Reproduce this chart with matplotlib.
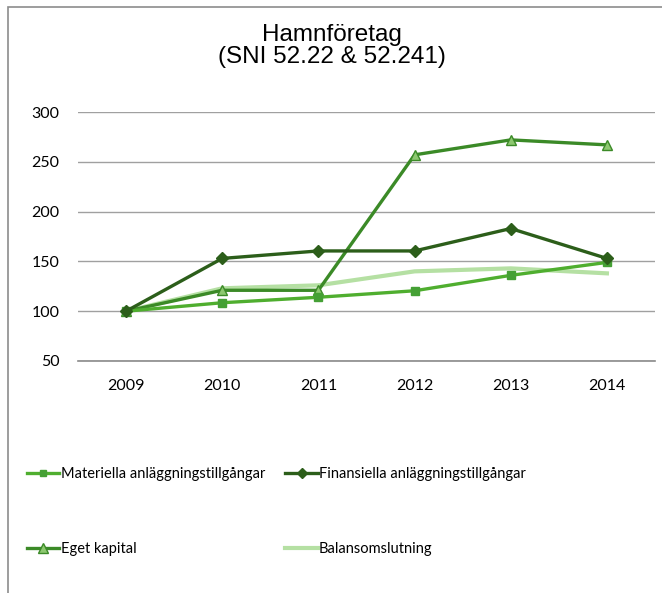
import matplotlib
matplotlib.use('Agg')
import matplotlib.pyplot as plt
from matplotlib.patches import Rectangle

### data
years = [2009, 2010, 2011, 2012, 2013, 2014]
materiella = [100, 108.5, 114, 120.5, 136, 149]
finansiella = [100, 153, 160.5, 160.5, 183, 153]
eget_kapital = [100, 121, 121, 257, 272, 267]
balans = [100, 123, 126, 140, 143, 138]

labels = ['Materiella anläggningstillgångar', 'Finansiella anläggningstillgångar',
          'Eget kapital', 'Balansomslutning']
title = 'Hamnföretag\n(SNI 52.22 & 52.241)'

W, H = 662, 593
fig = plt.figure(figsize=(W / 100, H / 100), dpi=100)

# outer chart border (right/bottom edges fall outside the image)
fig.patches.append(Rectangle((8 / W, -0.1), 1.1, 1 - 7 / H + 0.1, transform=fig.transFigure,
                             fill=False, edgecolor='#8c8c8c', linewidth=1.2))

ax = fig.add_axes([78 / W, 1 - 361 / H, (655 - 78) / W, (361 - 112) / H])

tick_font = 'Lato'

l1, = ax.plot(years, materiella, color='#4fae2f', lw=2.4, marker='s', ms=5.5,
              mfc='#45a035', mec='#45a035', zorder=3)
l2, = ax.plot(years, finansiella, color='#2c5e1a', lw=2.4, marker='D', ms=6,
              mfc='#2c5e1a', mec='#2c5e1a', zorder=4)
l3, = ax.plot(years, eget_kapital, color='#3b8a27', lw=2.4, marker='^', ms=7.5,
              mfc='#8dc870', mec='#3b8a27', mew=1.0, zorder=2)
l4, = ax.plot(years, balans, color='#b5e0a3', lw=3, zorder=1)

ax.set_xlim(2008.5, 2014.5)
ax.set_ylim(50, 300)
ax.set_yticks(range(50, 301, 50))
ax.set_xticks(years)
ax.grid(axis='y', color='#a0a0a0', lw=1)
ax.set_axisbelow(True)
for s in ['top', 'right', 'left']:
    ax.spines[s].set_visible(False)
ax.spines['bottom'].set_color('#8a8a8a')
ax.spines['bottom'].set_linewidth(1.2)
ax.tick_params(length=0, labelsize=11.5, colors='#000000', pad=13)
ax.tick_params(axis='y', pad=13.5)
for t in ax.get_xticklabels() + ax.get_yticklabels():
    t.set_fontfamily(tick_font)

fig.text(332 / W, 1 - 46 / H, title, ha='center', va='center', fontsize=17.5,
         family='Liberation Sans', linespacing=1.0)

# row-major order: legend fills columns first
handles = [l1, l3, l2, l4]
leg_labels = [labels[0], labels[2], labels[1], labels[3]]
leg = fig.legend(handles, leg_labels, ncol=2, loc='upper left',
                 bbox_to_anchor=(14 / W, 1 - 454 / H), frameon=False,
                 prop={'family': tick_font, 'size': 10.5},
                 handlelength=2.2, handletextpad=0.1, columnspacing=1.4,
                 labelspacing=4.15, markerscale=0.9)

fig.savefig('out.png', dpi=100)
